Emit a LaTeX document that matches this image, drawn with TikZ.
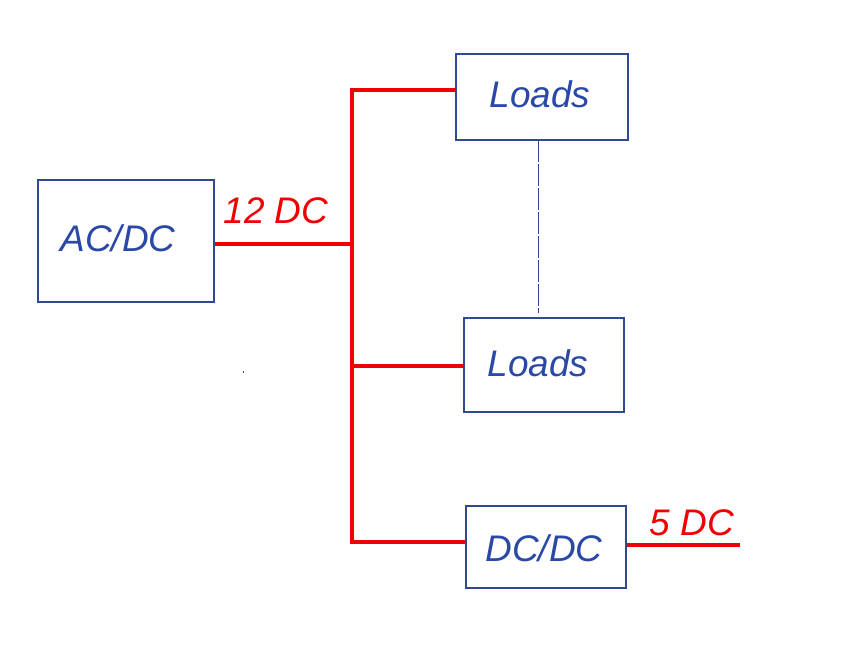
\documentclass[tikz,border=0pt]{standalone}
\usepackage{fontspec}
\setmainfont{Liberation Sans}
\definecolor{boxblue}{HTML}{2F4A8E}
\definecolor{txtblue}{HTML}{2A48A6}
\definecolor{wire}{HTML}{F00000}
\begin{document}
\begin{tikzpicture}[x=1pt,y=-1pt,
  unit/.style={draw=boxblue,line width=1.2pt,inner sep=0pt,fill=white},
  lbl/.style={font=\fontsize{37}{40}\selectfont\itshape,text=txtblue,inner sep=0pt},
  rlbl/.style={font=\fontsize{37}{40}\selectfont\itshape,text=wire,inner sep=0pt},
  bus/.style={draw=wire,line width=4pt}]
\useasboundingbox (0,0) rectangle (858,654);
\node[unit,minimum width=176pt,minimum height=122pt] (acdc) at (126,241) {};
\node[lbl] (acdct) at (118,238) {AC/DC};
\node[unit,minimum width=172pt,minimum height=86pt] (load1) at (542,97) {};
\node[lbl] (load1t) at (540,94) {Loads};
\node[unit,minimum width=160pt,minimum height=94pt] (load2) at (544,365) {};
\node[lbl] (load2t) at (538,363) {Loads};
\node[unit,minimum width=160pt,minimum height=82pt] (dcdc) at (546,547) {};
\node[lbl] (dcdct) at (544,548) {DC/DC};
\node[rlbl] (v12) at (276,211) {12 DC};
\node[rlbl] (v5) at (692,523) {5 DC};
\coordinate (btop) at (352,90);
\coordinate (bmid) at (352,244);
\coordinate (bl2) at (352,366);
\coordinate (bbot) at (352,542);
\coordinate (out5) at (740,545);
\draw[bus] (acdc.east |- bmid) -- (bmid);
\draw[bus,line cap=rect] (btop) -- (bbot);
\draw[bus] (btop) -- (load1.west |- btop);
\draw[bus] (bl2) -- (load2.west |- bl2);
\draw[bus] (bbot) -- (dcdc.west |- bbot);
\draw[bus] (dcdc.east |- out5) -- (out5);
\draw[draw=boxblue,line width=0.9pt,dash pattern=on 22pt off 2pt] (538,140) -- (538,313);
\coordinate (dotmark) at (243,371);
\draw[line width=0.6pt,draw=black!70] (dotmark) -- ++(0,2);
\end{tikzpicture}
\end{document}
